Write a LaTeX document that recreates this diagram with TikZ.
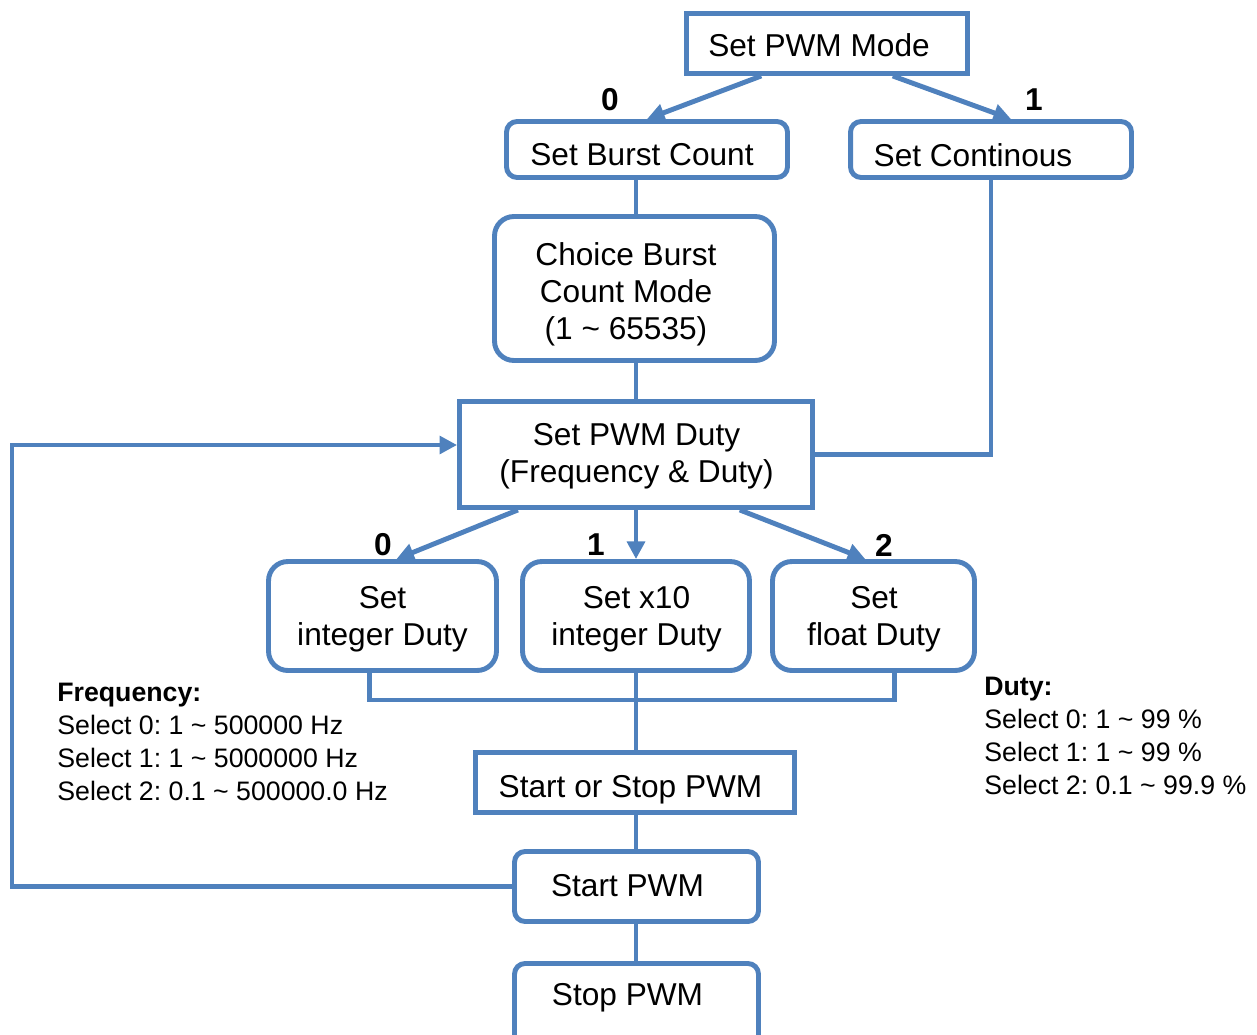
\documentclass[tikz,border=0pt]{standalone}
\usepackage{fontspec}
\setmainfont{Liberation Sans}
\usetikzlibrary{arrows.meta,calc}
\definecolor{flow}{RGB}{79,129,189}
\frenchspacing
\tikzset{
  box/.style={draw=flow, line width=2.8pt, inner sep=0pt},
  sqbox/.style={box},
  rbox/.style={box, rounded corners=6pt},
  rrbox/.style={box, rounded corners=11pt},
  btext/.style={inner sep=0pt, align=center, font=\fontsize{18}{21}\selectfont},
  conn/.style={draw=flow, line width=2.8pt},
  arr/.style={conn, -{Triangle[length=10pt,width=10pt]}},
  lbl/.style={font=\fontsize{18}{21}\selectfont\bfseries, inner sep=0pt},
  note/.style={font=\fontsize{15.2}{18.8}\selectfont\frenchspacing, align=left, inner sep=0pt, anchor=north west}
}
\begin{document}
\begin{tikzpicture}[x=0.02cm,y=-0.02cm]
\useasboundingbox (0,0) rectangle (1257,1034);
\clip (0,0) rectangle (1257,1034);

% boxes
\node[sqbox, minimum width=5.62cm, minimum height=1.2cm] (mode) at (827,43.5) {};
\node[rbox, minimum width=5.62cm, minimum height=1.12cm] (burst) at (647,149.5) {};
\node[rbox, minimum width=5.62cm, minimum height=1.12cm] (cont) at (991,149.5) {};
\node[rrbox, minimum width=5.6cm, minimum height=2.88cm] (choice) at (634.5,288.5) {};
\node[sqbox, minimum width=7.06cm, minimum height=2.12cm] (duty) at (636,454.5) {};
\node[rrbox, minimum width=4.56cm, minimum height=2.18cm] (intd) at (382.5,616) {};
\node[rrbox, minimum width=4.54cm, minimum height=2.18cm] (xten) at (636,616) {};
\node[rrbox, minimum width=4.04cm, minimum height=2.18cm] (flt) at (873.5,616) {};
\node[sqbox, minimum width=6.38cm, minimum height=1.2cm] (ss) at (635,782.5) {};
\node[rbox, minimum width=4.88cm, minimum height=1.4cm] (start) at (636.5,886.5) {};
\node[rbox, minimum width=4.88cm, minimum height=1.8cm] (stop) at (636.5,1008.5) {};

% box texts
\node[btext] (modet) at (819,45.5) {Set PWM Mode};
\node[btext] (burstt) at (642,155) {Set Burst Count};
\node[btext] (contt) at (973,155) {Set Continous};
\node[btext] (choicet) at (626,294.5) {Choice Burst\\Count Mode\\(1 \textasciitilde{} 65535)};
\node[btext] (dutyt) at (636.5,456.5) {Set PWM Duty\\(Frequency \& Duty)};
\node[btext] (intdt) at (382.5,619) {Set\\integer Duty};
\node[btext] (xtent) at (636.5,619) {Set x10\\integer Duty};
\node[btext] (fltt) at (874,619) {Set\\float Duty};
\node[btext] (sst) at (630.5,789.5) {Start or Stop PWM};
\node[btext] (startt) at (627.5,885.5) {Start PWM};
\node[btext] (stopt) at (627.5,997.5) {Stop PWM};

% labels
\node[lbl] (l0) at (610,100) {0};
\node[lbl] (l1) at (1034,100) {1};
\node[lbl] (d0) at (383,545) {0};
\node[lbl] (d1) at (596,545) {1};
\node[lbl] (d2) at (884,545) {2};

% connectors
\draw[arr] ($(mode.south west)!0.27!(mode.south east)$) -- (burst.north);
\draw[arr] ($(mode.south west)!0.73!(mode.south east)$) -- ($(cont.north west)!0.57!(cont.north east)$);
\draw[conn] (burst.south -| duty.north) -- (choice.north -| duty.north);
\draw[conn] (choice.south -| duty.north) -- (duty.north);
\draw[conn] (cont.south) |- (duty.east);

\draw[arr] ($(duty.south west)!0.17!(duty.south east)$) -- ($(intd.north west)!0.56!(intd.north east)$);
\draw[arr] (duty.south) -- (xten.north);
\draw[arr] ($(duty.south west)!0.79!(duty.south east)$) -- ($(flt.north west)!0.46!(flt.north east)$);

\coordinate (mergey) at (0,700);
\draw[conn] ($(intd.south west)!0.445!(intd.south east)$) |- (mergey -| xten.south) -| ($(flt.south west)!0.6!(flt.south east)$);
\draw[conn] (xten.south) -- (ss.north -| xten.south);
\draw[conn] (ss.south -| xten.south) -- (start.north -| xten.south);
\draw[conn] (start.south -| xten.south) -- (stop.north -| xten.south);

\coordinate (fb) at (12,445);
\draw[arr] (start.west) -| (fb) -- (fb -| duty.west);

% notes
\node[note] (freq) at (57,682.5) {\textbf{Frequency:}\\Select 0: 1 \textasciitilde{} 500000 Hz\\Select 1: 1 \textasciitilde{} 5000000 Hz\\Select 2: 0.1 \textasciitilde{} 500000.0 Hz};
\node[note] (dnote) at (984,676.5) {\textbf{Duty:}\\Select 0: 1 \textasciitilde{} 99 \%\\Select 1: 1 \textasciitilde{} 99 \%\\Select 2: 0.1 \textasciitilde{} 99.9 \%};
\end{tikzpicture}
\end{document}
